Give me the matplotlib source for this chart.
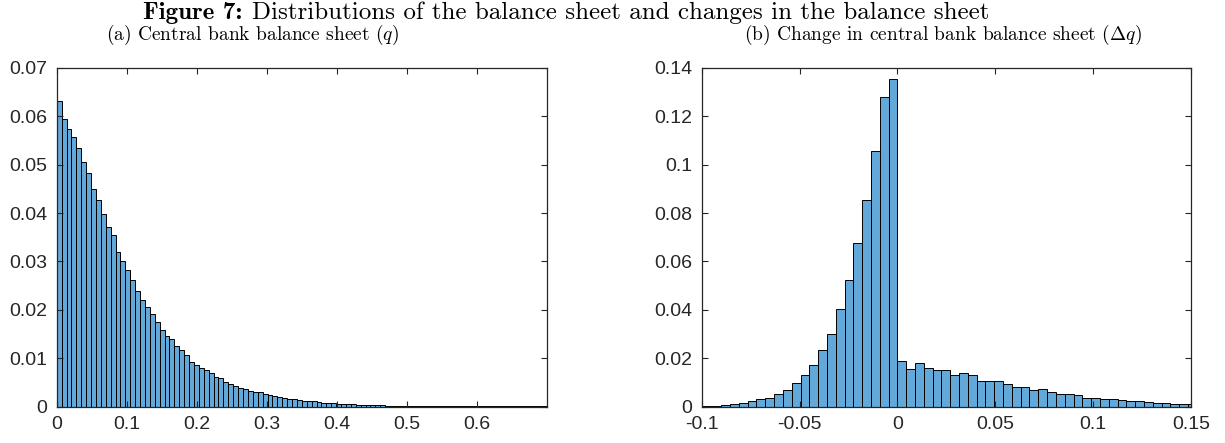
import numpy as np
import matplotlib.pyplot as plt
from matplotlib.ticker import FuncFormatter

plt.rcParams['axes.unicode_minus'] = False
plt.rcParams['mathtext.fontset'] = 'cm'

# (a) central bank balance sheet q, bins of 0.007 starting at 0
q_bin_width = 0.007
q_start = 0.0
q_heights = [
    0.0631, 0.0595, 0.0574, 0.0557, 0.0534, 0.0505, 0.0483, 0.0449, 0.0427, 0.0399,
    0.0372, 0.0355, 0.0320, 0.0301, 0.0283, 0.0261, 0.0239, 0.0220, 0.0206, 0.0191,
    0.0175, 0.0159, 0.0147, 0.0139, 0.0126, 0.0117, 0.0107, 0.0093, 0.0087, 0.0081,
    0.0075, 0.0069, 0.0062, 0.0060, 0.0052, 0.0047, 0.0043, 0.0039, 0.0037, 0.0033,
    0.0030, 0.0030, 0.0026, 0.0025, 0.0022, 0.0020, 0.0018, 0.0015, 0.0016, 0.0014,
    0.0012, 0.0012, 0.0011, 0.0010, 0.0008, 0.0008, 0.0008, 0.0006, 0.0006, 0.0005,
    0.0005, 0.0004, 0.0004, 0.0004, 0.0003, 0.0003, 0.0003, 0.0002, 0.0002, 0.0002,
    0.0002, 0.0002, 0.0001, 0.0001, 0.0001, 0.0001, 0.0001, 0.0001, 0.0001, 0.0001,
    0.0001, 0.0001, 0.00005, 0.00005, 0.00005, 0.00005, 0.00005, 0.00005, 0.00005, 0.00005,
    0.00005, 0.00005, 0.00005, 0.00005, 0.00005, 0.00005, 0.00005, 0.00005, 0.00005, 0.00005,
]

# (b) change in balance sheet dq, bins of 0.0045 with an edge at 0
dq_bin_width = 0.0045
dq_start = -23 * 0.0045
dq_heights = [
    0.0002, 0.0004, 0.0005, 0.0009, 0.0013, 0.0016, 0.0022, 0.0030, 0.0038, 0.0054,
    0.0070, 0.0099, 0.0133, 0.0171, 0.0236, 0.0302, 0.0403, 0.0525, 0.0675, 0.0853,
    0.1055, 0.1279, 0.1355,
    0.0189, 0.0156, 0.0181, 0.0162, 0.0152, 0.0152, 0.0130, 0.0139, 0.0132, 0.0108,
    0.0107, 0.0106, 0.0093, 0.0081, 0.0081, 0.0071, 0.0074, 0.0059, 0.0053, 0.0053,
    0.0048, 0.0037, 0.0037, 0.0033, 0.0033, 0.0027, 0.0022, 0.0022, 0.0019, 0.0016,
    0.0014, 0.0011, 0.0011, 0.0010,
]

q_xticks = [0, 0.1, 0.2, 0.3, 0.4, 0.5, 0.6]
q_yticks = [0, 0.01, 0.02, 0.03, 0.04, 0.05, 0.06, 0.07]
dq_xticks = [-0.1, -0.05, 0, 0.05, 0.1, 0.15]
dq_yticks = [0, 0.02, 0.04, 0.06, 0.08, 0.1, 0.12, 0.14]

face = '#62a8d8'
fmt = FuncFormatter(lambda v, p: '%g' % round(v, 4))


def draw_hist(ax, start, width, heights, xlim, ylim, xticks, yticks):
    lefts = start + width * np.arange(len(heights))
    ax.bar(lefts, heights, width=width, align='edge', color=face,
           edgecolor='black', linewidth=0.7)
    ax.set_xlim(*xlim)
    ax.set_ylim(*ylim)
    ax.set_xticks(xticks)
    ax.set_yticks(yticks)
    ax.xaxis.set_major_formatter(fmt)
    ax.yaxis.set_major_formatter(fmt)
    ax.tick_params(direction='in', top=True, right=True, length=4, width=0.8,
                   labelsize=14, color='#262626', labelcolor='#262626')
    ax.tick_params(axis='x', pad=7)
    ax.tick_params(axis='y', pad=7)
    for s in ax.spines.values():
        s.set_linewidth(0.9)
        s.set_color('#262626')
    for lab in ax.get_xticklabels() + ax.get_yticklabels():
        lab.set_fontfamily('Liberation Sans')


fig = plt.figure(figsize=(12.25, 4.43), dpi=100)
ax1 = fig.add_axes([0.0463, 0.0819, 0.4002, 0.765])
ax2 = fig.add_axes([0.5728, 0.0819, 0.3994, 0.765])

draw_hist(ax1, q_start, q_bin_width, q_heights, (0, 0.7), (0, 0.07), q_xticks, q_yticks)
draw_hist(ax2, dq_start, dq_bin_width, dq_heights, (-0.1, 0.15), (0, 0.14), dq_xticks, dq_yticks)

# figure caption: bold label followed by regular text, centred as one line
cap_y = 1 - 19 / 443
t1 = fig.text(0, cap_y, 'Figure 7:', ha='left', va='baseline', fontsize=18, fontfamily='cmb10')
t2 = fig.text(0, cap_y, 'Distributions of the balance sheet and changes in the balance sheet',
              ha='left', va='baseline', fontsize=18, fontfamily='cmr10')
r = fig.canvas.get_renderer()
w1 = t1.get_window_extent(r).width
w2 = t2.get_window_extent(r).width
gap = 9
x0 = 566 - (w1 + gap + w2) / 2
t1.set_x(x0 / 1225)
t2.set_x((x0 + w1 + gap) / 1225)

sub_y = 1 - 40 / 443
fig.text(0.206, sub_y, r'(a) Central bank balance sheet ($q$)',
         ha='center', va='baseline', fontsize=14, fontfamily='cmr10')
fig.text(0.770, sub_y, r'(b) Change in central bank balance sheet ($\Delta q$)',
         ha='center', va='baseline', fontsize=14, fontfamily='cmr10')

fig.savefig('out.png', dpi=100)
